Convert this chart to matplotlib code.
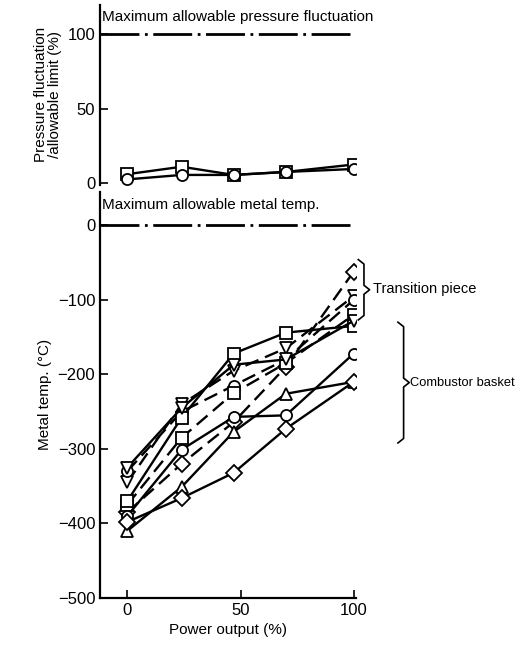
import matplotlib
matplotlib.use("Agg")
import matplotlib.pyplot as plt
import numpy as np

plt.rcParams['font.family'] = ['Liberation Sans', 'DejaVu Sans']

# power output (%)
power = [0, 24, 47, 70, 100]

# pressure fluctuation / allowable limit (%)
press_sq = [6, 11, 5.5, 7.5, 12.5]
press_ci = [2.5, 5.5, 5.5, 7.5, 9.5]

# metal temp. (deg C) - transition piece (dashed)
tp_diamond = [-385, -320, -264, -190, -62]
tp_tridown = [-345, -240, -195, -165, -95]
tp_circle = [-330, -250, -215, -180, -100]
tp_square = [-375, -285, -225, -185, -120]

# metal temp. (deg C) - combustor basket (solid)
cb_square = [-370, -258, -172, -144, -135]
cb_circle = [-390, -301, -257, -255, -172]
cb_triangle = [-410, -351, -277, -226, -210]
cb_diamond = [-398, -366, -332, -273, -210]
cb_upper = [-325, -245, -187, -180, -128]

fig = plt.figure(figsize=(5.16, 6.5), dpi=100)
ax1 = fig.add_axes([0.194, 0.716, 0.496, 0.277])
ax2 = fig.add_axes([0.194, 0.080, 0.496, 0.625])

mk = dict(markerfacecolor="white", markeredgecolor="black", markeredgewidth=1.3,
          markersize=8, color="black", linewidth=1.7)

# top panel
ax1.plot(power, press_sq, marker="s", **mk)
ax1.plot(power, press_ci, marker="o", **mk)
ax1.axhline(100, color="black", linewidth=2, linestyle=(0, (14, 2, 1, 2)))
ax1.text(-11, 107, "Maximum allowable pressure fluctuation", fontsize=11, va="bottom")
ax1.set_xlim(-12, 101)
ax1.set_ylim(-1, 120)
ax1.set_yticks([0, 50, 100])
ax1.set_xticks([])
for s in ["top", "right", "bottom"]:
    ax1.spines[s].set_visible(False)
ax1.spines["left"].set_linewidth(1.6)
ax1.tick_params(axis="y", direction="in", length=6, width=1.2, labelsize=12)
ax1.set_ylabel("Pressure fluctuation\n/allowable limit (%)", fontsize=11, linespacing=0.95)

# bottom panel
for vals, m in [(tp_diamond, "D"), (tp_tridown, "v"), (tp_circle, "o"), (tp_square, "s")]:
    ax2.plot(power, vals, marker=m, linestyle=(0, (6, 3)), **mk)
for vals, m in [(cb_square, "s"), (cb_circle, "o"), (cb_triangle, "^"), (cb_diamond, "D"), (cb_upper, "v")]:
    ax2.plot(power, vals, marker=m, linestyle="-", **mk)

ax2.axhline(0, color="black", linewidth=2, linestyle=(0, (14, 2, 1, 2)))
ax2.text(-11, 18, "Maximum allowable metal temp.", fontsize=11, va="bottom")
ax2.set_xlim(-12, 101)
ax2.set_ylim(-500, 45)
ax2.set_yticks([0, -100, -200, -300, -400, -500])
ax2.set_yticklabels(["0", "\u2212100", "\u2212200", "\u2212300", "\u2212400", "\u2212500"])
ax2.set_xticks([0, 50, 100])
for s in ["top", "right"]:
    ax2.spines[s].set_visible(False)
ax2.spines["left"].set_linewidth(1.6)
ax2.spines["bottom"].set_linewidth(1.6)
ax2.tick_params(direction="in", length=6, width=1.2, labelsize=12)
ax2.set_ylabel("Metal temp. (\u00b0C)", fontsize=11)
ax2.set_xlabel("Power output (%)", fontsize=11)


def brace(ax, x, y0, y1, w=2.5, d=6):
    ym = (y0 + y1) / 2
    xs = [x - w, x, x, x + w, x, x, x - w]
    ys = [y1, y1 - d, ym + d, ym, ym - d, y0 + d, y0]
    ax.plot(xs, ys, color="black", linewidth=1.2, clip_on=False)


brace(ax2, 104.5, -127, -46)
ax2.text(108.5, -86, "Transition piece", fontsize=10.5, va="center")
brace(ax2, 122, -292, -130)
ax2.text(125, -211, "Combustor basket", fontsize=9.3, va="center")

fig.savefig("out.png", dpi=100)
